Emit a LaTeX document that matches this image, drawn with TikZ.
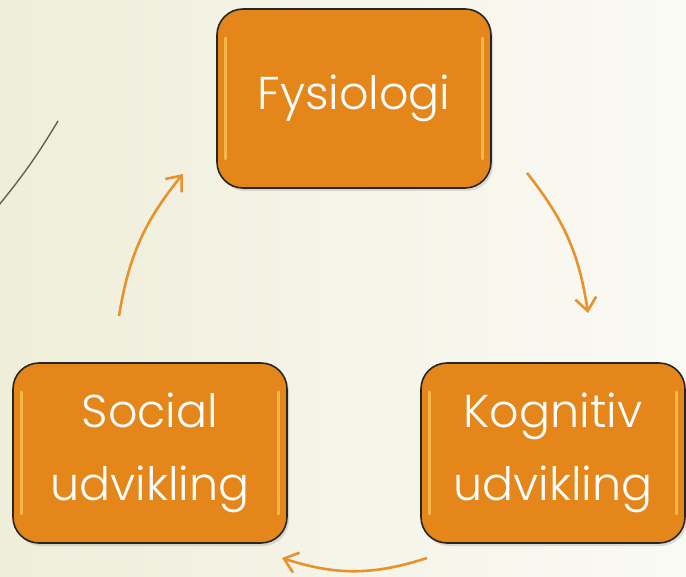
\documentclass[tikz,border=0pt]{standalone}
\usepackage{fontspec}
\setmainfont{Poppins Light}
\usetikzlibrary{arrows.meta,shadows}
\definecolor{orangebox}{HTML}{E4861A}
\definecolor{pilfarve}{HTML}{E8922C}
\definecolor{kant}{HTML}{262626}
\definecolor{glans}{HTML}{FFD86A}
\tikzset{
  boks/.style={draw=kant, line width=1.6pt, fill=orangebox, rounded corners=26pt,
    text=white, align=center, font=\fontsize{46}{73}\selectfont,
    drop shadow={opacity=0.25, shadow xshift=2pt, shadow yshift=-3pt}},
  pil/.style={draw=pilfarve, line width=2.6pt, -{Straight Barb[length=13pt,width=21pt]}},
  glansstreg/.style={glans, line width=3pt, line cap=round, opacity=0.6}
}
\begin{document}
\begin{tikzpicture}[x=1pt,y=-1pt]
  \shade[left color={rgb,255:red,239;green,238;blue,218}, right color={rgb,255:red,250;green,250;blue,245}] (0,0) rectangle (686,577);
  \useasboundingbox (0,0) rectangle (686,577);
  \draw[color={rgb,255:red,88;green,104;blue,74}, line width=1.4pt] (58,121) to[bend left=4] (-1,205);
  \node[boks, minimum width=274pt, minimum height=179pt] (fys) at (354,98.5) {Fysiologi};
  \node[boks, minimum width=264pt, minimum height=180pt] (kog) at (553,453) {Kognitiv\\udvikling};
  \node[boks, minimum width=274pt, minimum height=180pt] (soc) at (150,453) {Social\\udvikling};
  \foreach \n in {fys,kog,soc}{
    \draw[glansstreg] ([xshift=9pt,yshift=-30pt]\n.north west) -- ([xshift=9pt,yshift=30pt]\n.south west);
    \draw[glansstreg] ([xshift=-9pt,yshift=-30pt]\n.north east) -- ([xshift=-9pt,yshift=30pt]\n.south east);
  }
  \coordinate (fk1) at (527,173);
  \coordinate (fk2) at (588,313);
  \coordinate (ks1) at (427,558);
  \coordinate (ks2) at (282,558);
  \coordinate (sf1) at (119,316);
  \coordinate (sf2) at (183,174);
  \draw[pil] (fk1) to[bend left=15] (fk2);
  \draw[pil] (ks1) to[bend left=18] (ks2);
  \draw[pil] (sf1) to[bend left=15] (sf2);
\end{tikzpicture}
\end{document}
